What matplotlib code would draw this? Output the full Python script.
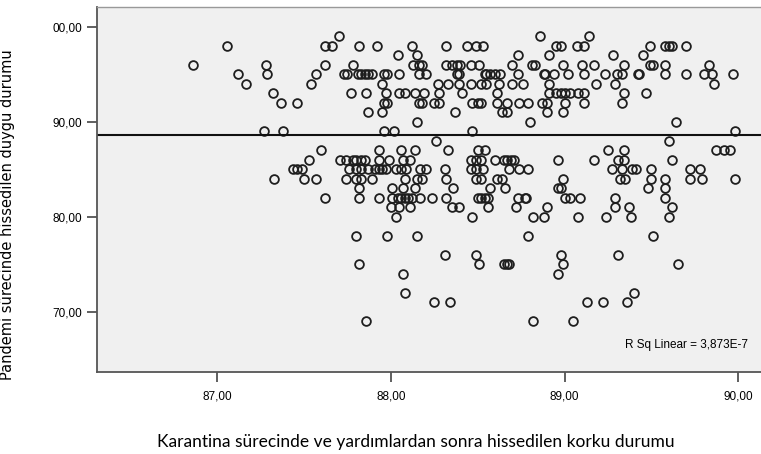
import matplotlib
matplotlib.use("Agg")
import matplotlib.pyplot as plt
import numpy as np

# korku (x) values grouped by duygu (y) level
x_99 = [87.70, 88.86, 89.14]
x_98 = [87.06, 87.62, 87.66, 87.82, 87.92, 88.12, 88.32, 88.44, 88.49, 88.53,
        88.95, 88.98, 89.07, 89.11, 89.49, 89.58, 89.60, 89.62, 89.70]
x_97 = [88.04, 88.15, 88.73, 88.91, 89.28, 89.45]
x_96 = [86.86, 87.28, 87.62, 87.78, 88.13, 88.16, 88.18, 88.32, 88.35, 88.38,
        88.40, 88.46, 88.51, 88.70, 88.81, 88.83, 88.99, 89.10, 89.17, 89.34,
        89.49, 89.51, 89.58, 89.83]
x_95 = [87.12, 87.29, 87.57, 87.73, 87.75, 87.81, 87.83, 87.85, 87.87, 87.89,
        87.96, 87.98, 88.05, 88.16, 88.20, 88.38, 88.39, 88.54, 88.55, 88.57,
        88.60, 88.63, 88.73, 88.88, 88.89, 88.94, 89.02, 89.11, 89.23, 89.30,
        89.33, 89.42, 89.43, 89.58, 89.70, 89.80, 89.85, 89.97]
x_94 = [87.17, 87.54, 87.95, 88.27, 88.33, 88.39, 88.46, 88.52, 88.55, 88.62,
        88.70, 88.76, 88.91, 89.18, 89.29, 89.86]
x_93 = [87.32, 87.77, 87.86, 87.97, 88.05, 88.08, 88.14, 88.19, 88.28, 88.41,
        88.61, 88.91, 88.95, 88.98, 89.00, 89.03, 89.08, 89.11, 89.34, 89.47]
x_92 = [87.37, 87.46, 87.96, 87.98, 88.16, 88.18, 88.25, 88.28, 88.47, 88.50,
        88.52, 88.61, 88.67, 88.74, 88.79, 88.87, 88.90, 89.00, 89.11, 89.33]
x_91 = [87.87, 87.95, 88.37, 88.64, 88.67, 88.90, 88.99]
x_90 = [88.15, 88.80, 89.64]
x_89 = [87.27, 87.38, 87.96, 88.02, 88.47, 89.98]
x_88 = [88.26, 89.60]
x_87 = [87.60, 87.93, 88.06, 88.14, 88.33, 88.50, 88.54, 89.25, 89.34, 89.87,
        89.92, 89.95]
x_86 = [87.53, 87.71, 87.74, 87.78, 87.80, 87.83, 87.85, 87.93, 87.99, 88.07,
        88.11, 88.46, 88.49, 88.52, 88.60, 88.65, 88.67, 88.69, 88.71, 88.96,
        89.17, 89.31, 89.34, 89.62]
x_85 = [87.44, 87.46, 87.49, 87.76, 87.80, 87.83, 87.87, 87.91, 87.93, 87.95,
        87.97, 88.03, 88.06, 88.09, 88.17, 88.20, 88.31, 88.46, 88.49, 88.53,
        88.68, 88.74, 88.79, 89.27, 89.33, 89.39, 89.41, 89.50, 89.72, 89.78]
x_84 = [87.33, 87.50, 87.57, 87.74, 87.80, 87.83, 87.89, 88.08, 88.15, 88.18,
        88.32, 88.49, 88.52, 88.61, 88.64, 88.99, 89.32, 89.35, 89.50, 89.58,
        89.72, 89.79, 89.98]
x_83 = [87.82, 88.01, 88.07, 88.14, 88.36, 88.57, 88.66, 88.96, 88.98, 89.48,
        89.58]
x_82 = [87.62, 87.82, 87.93, 88.01, 88.04, 88.06, 88.08, 88.10, 88.12, 88.17,
        88.24, 88.32, 88.50, 88.52, 88.54, 88.56, 88.73, 88.77, 88.78, 89.00,
        89.03, 89.09, 89.29, 89.58]
x_81 = [88.00, 88.05, 88.11, 88.35, 88.39, 88.56, 88.72, 88.90, 89.29, 89.37,
        89.62]
x_80 = [88.03, 88.47, 88.82, 88.88, 89.08, 89.24, 89.38, 89.60]
x_78 = [87.80, 87.98, 88.15, 88.79, 89.51]
x_76 = [88.31, 88.49, 88.98, 89.31]
x_75 = [87.82, 88.51, 88.65, 88.67, 88.68, 88.99, 89.65]
x_74 = [88.07, 88.96]
x_72 = [88.08, 89.40]
x_71 = [88.25, 88.34, 89.13, 89.22, 89.36]
x_69 = [87.86, 88.82, 89.05]

rows = [(99, x_99), (98, x_98), (97, x_97), (96, x_96), (95, x_95), (94, x_94),
        (93, x_93), (92, x_92), (91, x_91), (90, x_90), (89, x_89), (88, x_88),
        (87, x_87), (86, x_86), (85, x_85), (84, x_84), (83, x_83), (82, x_82),
        (81, x_81), (80, x_80), (78, x_78), (76, x_76), (75, x_75), (74, x_74),
        (72, x_72), (71, x_71), (69, x_69)]

xticks = [87, 88, 89, 90]
xtick_labels = ["87,00", "88,00", "89,00", "90,00"]
yticks = [70, 80, 90, 100]
ytick_labels = ["70,00", "80,00", "90,00", "00,00"]

fit_intercept = 88.58
fit_slope = 0.0
r_sq_text = "R Sq Linear = 3,873E-7"

korku = np.concatenate([np.array(xs) for lvl, xs in rows])
duygu = np.concatenate([np.full(len(xs), lvl) for lvl, xs in rows])

fig = plt.figure(figsize=(7.61, 4.54), dpi=100)
ax = fig.add_axes([97 / 761, 82 / 454, 664 / 761, 365 / 454])
ax.set_facecolor("#F0F0F0")

ax.plot(korku, duygu, linestyle="none", marker="o", markersize=6.3,
        markerfacecolor="none", markeredgecolor="#1e1e1e", markeredgewidth=1.3)

xlim = (86.31, 90.13)
line_x = np.array(xlim)
ax.plot(line_x, fit_intercept + fit_slope * line_x, color="#111111", lw=1.5)

ax.set_xlim(xlim)
ax.set_ylim(63.65, 102.07)

ax.set_xticks(xticks)
ax.set_xticklabels(xtick_labels, fontfamily="Liberation Sans", fontsize=8.5)
ax.set_yticks(yticks)
ax.set_yticklabels(ytick_labels, fontfamily="Liberation Sans", fontsize=8.5)
ax.tick_params(axis="both", direction="out", length=7, width=1.2, color="#444444")
ax.tick_params(axis="x", pad=6)

for s in ["left", "bottom"]:
    ax.spines[s].set_color("#555555")
    ax.spines[s].set_linewidth(1.3)
ax.spines["top"].set_color("#999999")
ax.spines["top"].set_linewidth(1.0)
ax.spines["right"].set_visible(False)

ax.text(0.98, 0.075, r_sq_text, transform=ax.transAxes, ha="right", va="center",
        fontfamily="Liberation Sans", fontsize=8.5)

ax.set_xlabel("Karantina sürecinde ve yardımlardan sonra hissedilen korku durumu",
              fontfamily="Lato", fontsize=12.5)
ax.xaxis.set_label_coords(0.48, -0.17)
ax.set_ylabel("Pandemi sürecinde hissedilen duygu durumu",
              fontfamily="DejaVu Sans", fontsize=10.5)
ax.yaxis.set_label_coords(-0.123, 0.43)

fig.savefig("out.png", dpi=100)
